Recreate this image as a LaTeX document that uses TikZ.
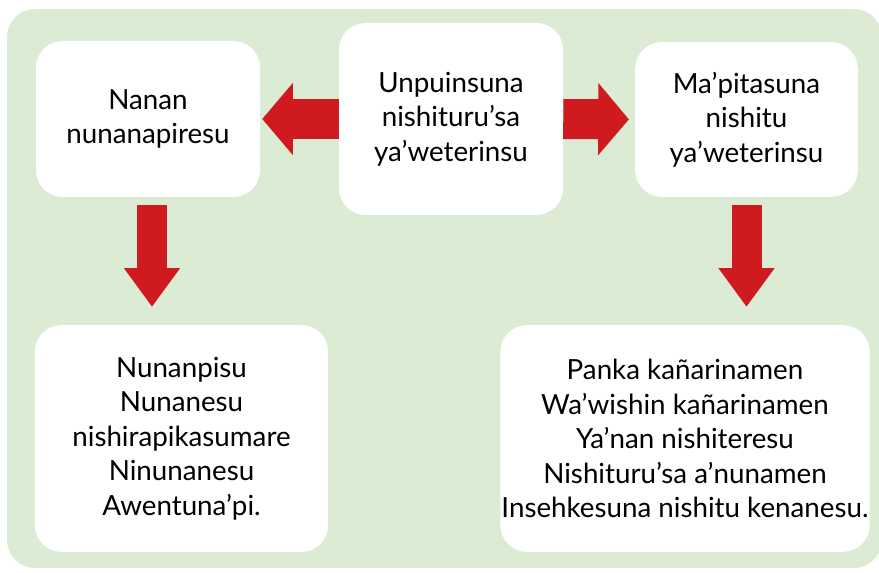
\documentclass[tikz,border=0pt]{standalone}
\usepackage{fontspec}
\setmainfont{Lato}
\usepackage{tikz}
\usetikzlibrary{arrows.meta}
\definecolor{bggreen}{RGB}{220,235,212}
\definecolor{arrowred}{RGB}{207,26,31}
\tikzset{
	box/.style={fill=white, rounded corners=20pt, inner sep=0pt, align=center,
		font=\fontsize{20.8}{25.8}\selectfont},
	sidearrow/.style={draw=arrowred, line width=30pt,
		-{Triangle[length=23pt,width=53pt]}},
	downarrow/.style={draw=arrowred, line width=22.5pt,
		-{Triangle[length=29pt,width=40pt]}},
}
\begin{document}
\begin{tikzpicture}[x=0.75pt,y=-0.75pt]

\useasboundingbox (0,0) rectangle (879,573);
	\fill[bggreen, rounded corners=21pt] (7,9) rectangle (882,568);

	\node[box, minimum width=168pt, minimum height=117pt] (nanan) at (148,119) {Nanan\\nunanapiresu};
	\node[box, minimum width=168pt, minimum height=144pt] (unpuin) at (451,119) {Unpuinsuna\\nishituru’sa\\ya’weterinsu};
	\node[box, minimum width=167pt, minimum height=116pt] (mapita) at (746.5,119.5) {Ma’pitasuna\\nishitu\\ya’weterinsu};
	\node[box, minimum width=220pt, minimum height=170pt] (nunan) at (181.5,438.5) {Nunanpisu\\Nunanesu\\nishirapikasumare\\Ninunanesu\\Awentuna’pi.};
	\node[box, minimum width=277pt, minimum height=170pt] (panka) at (685,438.5) {Panka kañarinamen\\Wa’wishin kañarinamen\\Ya’nan nishiteresu\\Nishituru’sa a’nunamen\\Insehkesuna nishitu kenanesu.};

%	arrows
	\draw[sidearrow, shorten >=1.5pt] (unpuin.west) -- (nanan.east);
	\draw[sidearrow, shorten >=4.5pt] (unpuin.east) -- (mapita.west);
	\draw[downarrow, shorten <=6pt, shorten >=13.5pt] ([xshift=3pt]nanan.south) -- ([xshift=3pt]nanan.south |- nunan.north);
	\draw[downarrow, shorten <=6pt, shorten >=13.5pt] (mapita.south) -- (mapita.south |- panka.north);

\end{tikzpicture}
\end{document}
